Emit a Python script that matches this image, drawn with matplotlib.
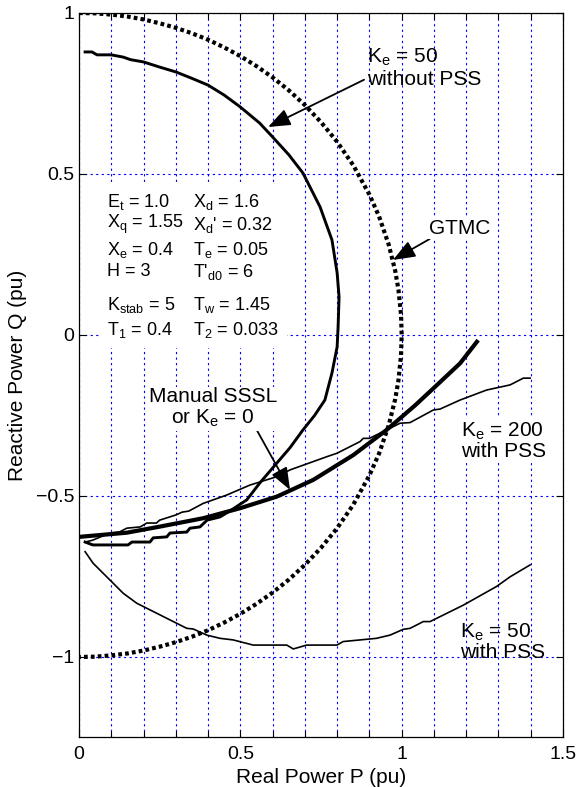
"""Reactive vs real power capability / stability limits (P-Q plane)."""

import matplotlib

matplotlib.use("Agg")
import matplotlib.pyplot as plt
from matplotlib import ticker
from matplotlib.patches import Rectangle

plt.rcParams["font.family"] = ["Liberation Sans", "DejaVu Sans"]
plt.rcParams["mathtext.fontset"] = "custom"
plt.rcParams["mathtext.rm"] = "Liberation Sans"
plt.rcParams["mathtext.it"] = "Liberation Sans:italic"

# -- data ------------------------------------------------------------------
# GTMC (dotted)
gtmc_p = [0.00, 0.05, 0.10, 0.15, 0.20, 0.25, 0.30, 0.35, 0.40, 0.45, 0.50,
          0.55, 0.60, 0.65, 0.70, 0.75, 0.80, 0.85, 0.90, 0.93, 0.96, 0.98,
          0.99, 0.998, 1.00, 0.998, 0.99, 0.98, 0.96, 0.93, 0.90, 0.85, 0.80,
          0.75, 0.70, 0.65, 0.60, 0.55, 0.50, 0.45, 0.40, 0.35, 0.30, 0.25,
          0.20, 0.15, 0.10, 0.05, 0.00]
gtmc_q = [1.000, 0.999, 0.995, 0.989, 0.980, 0.968, 0.954, 0.937, 0.917,
          0.893, 0.866, 0.835, 0.800, 0.760, 0.714, 0.661, 0.600, 0.527,
          0.436, 0.368, 0.280, 0.199, 0.141, 0.063, 0.000, -0.063, -0.141,
          -0.199, -0.280, -0.368, -0.436, -0.527, -0.600, -0.661, -0.714,
          -0.760, -0.800, -0.835, -0.866, -0.893, -0.917, -0.937, -0.954,
          -0.968, -0.980, -0.989, -0.995, -0.999, -1.000]

# Ke = 50 without PSS (thick)
ke50_nopss_p = [0.019, 0.040, 0.056, 0.100, 0.137, 0.160, 0.200, 0.250, 0.300,
                0.350, 0.400, 0.450, 0.500, 0.560, 0.600, 0.650, 0.694, 0.747,
                0.784, 0.800, 0.806, 0.803, 0.800, 0.784, 0.762, 0.730, 0.694,
                0.654, 0.613, 0.560, 0.520, 0.470, 0.437, 0.397, 0.375, 0.344,
                0.334, 0.282, 0.272, 0.230, 0.220, 0.164, 0.152, 0.043, 0.019]
ke50_nopss_q = [0.879, 0.879, 0.870, 0.870, 0.863, 0.855, 0.848, 0.832, 0.817,
                0.797, 0.776, 0.745, 0.708, 0.658, 0.615, 0.560, 0.503, 0.398,
                0.295, 0.193, 0.118, 0.025, -0.037, -0.118, -0.202, -0.250,
                -0.295, -0.350, -0.398, -0.460, -0.512, -0.545, -0.565, -0.575,
                -0.596, -0.600, -0.612, -0.615, -0.627, -0.630, -0.643, -0.643,
                -0.652, -0.652, -0.643]

# Manual SSSL or Ke = 0 (thickest)
manual_p = [0.000, 0.148, 0.251, 0.385, 0.499, 0.613, 0.726, 0.850, 0.953,
            1.040, 1.098, 1.181, 1.237]
manual_q = [-0.627, -0.614, -0.595, -0.569, -0.538, -0.502, -0.450, -0.373,
            -0.295, -0.220, -0.166, -0.088, -0.016]

# Ke = 200 with PSS (thin)
ke200_p = [0.020, 0.043, 0.096, 0.125, 0.148, 0.190, 0.210, 0.240, 0.250,
           0.300, 0.320, 0.340, 0.385, 0.458, 0.530, 0.613, 0.654, 0.768,
           0.800, 0.871, 0.881, 0.900, 0.943, 0.995, 1.026, 1.098, 1.119,
           1.181, 1.263, 1.336, 1.377, 1.398]
ke200_q = [-0.643, -0.637, -0.615, -0.612, -0.600, -0.596, -0.584, -0.584,
           -0.575, -0.559, -0.550, -0.547, -0.523, -0.497, -0.466, -0.440,
           -0.419, -0.378, -0.367, -0.331, -0.321, -0.321, -0.300, -0.274,
           -0.272, -0.233, -0.230, -0.202, -0.171, -0.155, -0.134, -0.134]

# Ke = 50 with PSS (thin)
ke50_pss_p = [0.019, 0.044, 0.137, 0.179, 0.334, 0.354, 0.396, 0.437, 0.478,
              0.540, 0.644, 0.664, 0.706, 0.799, 0.819, 0.871, 0.922, 0.964,
              1.005, 1.026, 1.067, 1.088, 1.191, 1.294, 1.336, 1.398]
ke50_pss_q = [-0.673, -0.709, -0.802, -0.833, -0.911, -0.913, -0.932, -0.942,
              -0.947, -0.963, -0.963, -0.975, -0.963, -0.963, -0.952, -0.947,
              -0.942, -0.932, -0.914, -0.911, -0.890, -0.890, -0.839, -0.781,
              -0.751, -0.714]

x_ticks = [0, 0.5, 1, 1.5]
x_tick_labels = ["0", "0.5", "1", "1.5"]
y_ticks = [-1, -0.5, 0, 0.5, 1]
y_tick_labels = ["\u22121", "\u22120.5", "0", "0.5", "1"]

param_left = [r"E$_\mathrm{t}$ = 1.0", r"X$_\mathrm{q}$ = 1.55",
              r"X$_\mathrm{e}$ = 0.4", "H = 3",
              r"K$_\mathrm{stab}$ = 5", r"T$_\mathrm{1}$ = 0.4"]
param_right = [r"X$_\mathrm{d}$ = 1.6", r"X$_\mathrm{d}$' = 0.32",
               r"T$_\mathrm{e}$ = 0.05", r"T'$_\mathrm{d0}$ = 6",
               r"T$_\mathrm{w}$ = 1.45", r"T$_\mathrm{2}$ = 0.033"]
param_rows = [0.413, 0.342, 0.264, 0.196, 0.093, 0.016]

# -- plot ------------------------------------------------------------------
fig = plt.figure(figsize=(5.79, 7.87), dpi=100)
ax = fig.add_axes([0.1364, 0.0629, 0.836, 0.9206])

ax.plot(gtmc_p, gtmc_q, color="black", linewidth=3.0,
        linestyle=(0, (0.9, 0.75)), dash_capstyle="butt", zorder=3)
ax.plot(ke50_nopss_p, ke50_nopss_q, color="black", linewidth=2.1, zorder=3)
ax.plot(manual_p, manual_q, color="black", linewidth=3.0,
        solid_capstyle="butt", zorder=3)
ax.plot(ke200_p, ke200_q, color="black", linewidth=1.2, zorder=3)
ax.plot(ke50_pss_p, ke50_pss_q, color="black", linewidth=1.2, zorder=3)

ax.set_xlim(0, 1.5)
ax.set_ylim(-1.25, 1.0)
ax.set_xticks(x_ticks)
ax.set_xticklabels(x_tick_labels)
ax.set_yticks(y_ticks)
ax.set_yticklabels(y_tick_labels)
ax.xaxis.set_minor_locator(ticker.MultipleLocator(0.1))
ax.tick_params(which="both", direction="in", top=True, right=True,
               labelsize=14, length=5, width=0.8)
ax.tick_params(which="minor", length=4)
ax.tick_params(axis="x", pad=6)

ax.set_axisbelow(True)
grid_kw = dict(color="#0000ff", linestyle=(0, (2, 3)), linewidth=0.8)
ax.grid(axis="x", which="both", **grid_kw)
ax.grid(axis="y", which="major", **grid_kw)

for spine in ax.spines.values():
    spine.set_linewidth(0.9)

ax.set_xlabel("Real Power P (pu)", fontsize=15, labelpad=4)
ax.set_ylabel("Reactive Power Q (pu)", fontsize=15, labelpad=6)

# white panel behind the parameter block
ax.add_patch(Rectangle((0.065, -0.04), 0.58, 0.51, facecolor="white",
                       edgecolor="none", zorder=1))
for y, left, right in zip(param_rows, param_left, param_right):
    ax.text(0.087, y, left, fontsize=13, va="center", ha="left", zorder=4)
    ax.text(0.352, y, right, fontsize=13, va="center", ha="left", zorder=4)

arrow_kw = dict(arrowstyle="-|>,head_length=0.9,head_width=0.35",
                color="black", linewidth=1.3, shrinkA=0, shrinkB=0)

ax.annotate("K$_\\mathrm{e}$ = 50\nwithout PSS", xy=(0.586, 0.646),
            xytext=(0.892, 0.83), fontsize=15, ha="left", va="center",
            linespacing=1.15, arrowprops=dict(**arrow_kw,
                                              relpos=(0.0, 0.25)),
            zorder=5)
ax.annotate("GTMC", xy=(0.973, 0.233), xytext=(1.18, 0.332), fontsize=15,
            ha="center", va="center",
            bbox=dict(facecolor="white", edgecolor="none", pad=1),
            arrowprops=dict(**arrow_kw, relpos=(0.05, 0.0)), zorder=5)
ax.annotate("Manual SSSL\nor K$_\\mathrm{e}$ = 0", xy=(0.654, -0.481),
            xytext=(0.415, -0.228), fontsize=15, ha="center", va="center",
            linespacing=1.1,
            bbox=dict(facecolor="white", edgecolor="none", pad=1),
            arrowprops=dict(**arrow_kw, relpos=(0.83, 0.05)), zorder=5)
ax.text(1.184, -0.329, "K$_\\mathrm{e}$ = 200\nwith PSS", fontsize=15,
        ha="left", va="center", linespacing=1.05,
        bbox=dict(facecolor="white", edgecolor="none", pad=1), zorder=5)
ax.text(1.18, -0.952, "K$_\\mathrm{e}$ = 50\nwith PSS", fontsize=15,
        ha="left", va="center", linespacing=1.0, zorder=5)

fig.savefig("out.png", dpi=100)
